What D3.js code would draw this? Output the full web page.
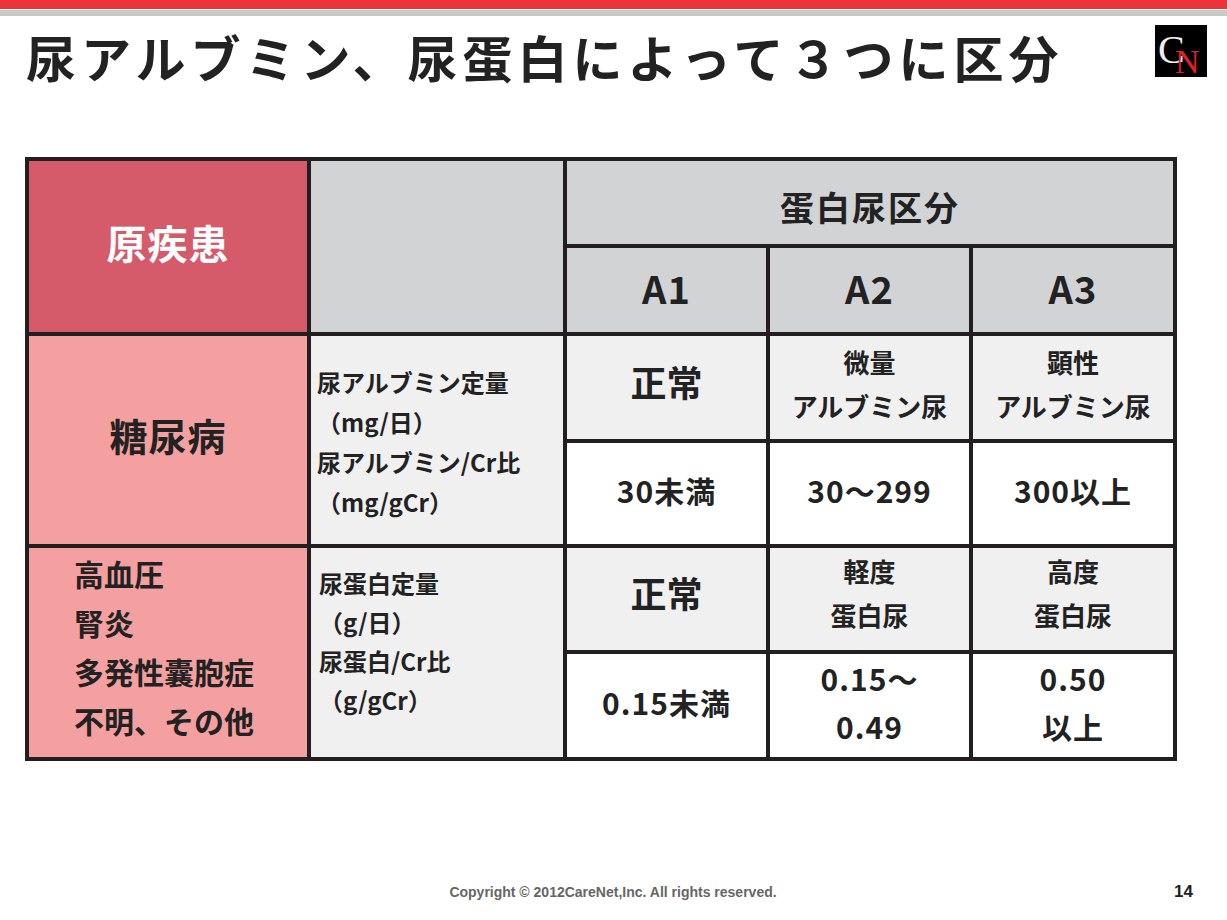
<!DOCTYPE html>
<html><head><meta charset="utf-8">
<script src="https://cdn.jsdelivr.net/npm/d3@7"></script>
<style>body{margin:0;background:#fff}svg{display:block;font-family:"Noto Sans CJK JP",sans-serif}</style>
</head><body><svg id="s" width="1227" height="920"></svg>
<script>
const title = "尿アルブミン、尿蛋白によって３つに区分";
const grades = ["A1", "A2", "A3"];
const dmLabel = ["尿アルブミン定量", "（mg/日）", "尿アルブミン/Cr比", "（mg/gCr）"];
const dmClass = [["正常"], ["微量", "アルブミン尿"], ["顕性", "アルブミン尿"]];
const dmRange = [["30未満"], ["30〜299"], ["300以上"]];
const otherDiseases = ["高血圧", "腎炎", "多発性囊胞症", "不明、その他"];
const pLabel = ["尿蛋白定量", "（g/日）", "尿蛋白/Cr比", "（g/gCr）"];
const pClass = [["正常"], ["軽度", "蛋白尿"], ["高度", "蛋白尿"]];
const pRange = [["0.15未満"], ["0.15〜", "0.49"], ["0.50", "以上"]];

const svg = d3.select("#s");
const colX = [27, 309, 565, 768, 971, 1175];
const rowY = [159, 246, 334, 441, 546, 652, 759];
const ink = "#231f20";

svg.append("rect").attr("width", 1227).attr("height", 9).attr("fill", "#ee3338");
svg.append("rect").attr("y", 10).attr("width", 1227).attr("height", 6).attr("fill", "#c8c8c8");
svg.append("text").attr("x", 26).attr("y", 78).attr("font-size", 50).attr("font-weight", 700)
  .attr("letter-spacing", 5).attr("fill", "#222").text(title);
// logo
const lg = svg.append("g").attr("transform", "translate(1155,25)");
lg.append("rect").attr("width", 52).attr("height", 52).attr("fill", "#000");
lg.append("text").attr("x", 3).attr("y", 38).attr("font-family", "Liberation Serif").attr("font-size", 40).attr("fill", "#eee")
  .text("C").append("tspan").attr("x", 20).attr("y", 48).attr("font-size", 34).attr("fill", "#e2202c").text("N");

function cell(c0, c1, r0, r1, fill, lines, opt = {}) {
  const x0 = colX[c0], x1 = colX[c1], y0 = rowY[r0], y1 = rowY[r1];
  svg.append("rect").attr("x", x0).attr("y", y0).attr("width", x1 - x0).attr("height", y1 - y0)
    .attr("fill", fill).attr("stroke", ink).attr("stroke-width", 4);
  const fs = opt.fs || 28, lh = opt.lh || fs * 1.55;
  const cy = (y0 + y1) / 2 + (opt.dy || 0);
  const cx = opt.x != null ? x0 + opt.x : (x0 + x1) / 2;
  lines.forEach((t, i) => {
    svg.append("text").attr("x", cx).attr("y", cy + (i - (lines.length - 1) / 2) * lh)
      .attr("dy", "0.36em").attr("text-anchor", opt.x != null ? "start" : "middle")
      .attr("font-size", fs).attr("font-weight", 700).attr("fill", opt.color || "#222")
      .attr("letter-spacing", opt.ls || 0).text(t);
  });
}

cell(0, 1, 0, 2, "#d55b6b", ["原疾患"], {fs: 40, color: "#fff", dy: -2, ls: 1});
cell(1, 5, 0, 1, "#d2d3d5", []);
cell(1, 2, 0, 2, "#d2d3d5", []);
svg.append("text").attr("x", (colX[2] + colX[5]) / 2).attr("y", 221).attr("text-anchor", "middle")
  .attr("font-size", 34).attr("font-weight", 700).attr("letter-spacing", 2).attr("fill", "#222").text("蛋白尿区分");
grades.forEach((g, i) => cell(2 + i, 3 + i, 1, 2, "#d2d3d5", [g], {fs: 38, dy: 0, ls: 1}));

cell(0, 1, 2, 4, "#f4a0a0", ["糖尿病"], {fs: 38, dy: -3, ls: 1});
cell(1, 2, 2, 4, "#f0f0f0", dmLabel, {fs: 24, lh: 40, x: 8, dy: 3});
dmClass.forEach((l, i) => cell(2 + i, 3 + i, 2, 3, "#f0f0f0", l, {fs: i ? 26 : 36, lh: 44, dy: i ? -2 : -3}));
dmRange.forEach((l, i) => cell(2 + i, 3 + i, 3, 4, "#fff", l, {fs: 30, dy: -1, ls: 1}));

cell(0, 1, 4, 6, "#f4a0a0", otherDiseases, {fs: 30, lh: 49, x: 47, dy: -4});
cell(1, 2, 4, 6, "#f0f0f0", pLabel, {fs: 24, lh: 39, x: 10, dy: -10});
pClass.forEach((l, i) => cell(2 + i, 3 + i, 4, 5, "#f0f0f0", l, {fs: i ? 26 : 36, lh: 44, dy: -4}));
pRange.forEach((l, i) => cell(2 + i, 3 + i, 5, 6, "#fff", l, {fs: 30, lh: 48, dy: -1, ls: 1}));

svg.append("text").attr("x", 613).attr("y", 897).attr("text-anchor", "middle").attr("font-family", "Liberation Sans, Arial")
  .attr("font-size", 14).attr("font-weight", 700).attr("fill", "#666").text("Copyright © 2012CareNet,Inc. All rights reserved.");
svg.append("text").attr("x", 1193).attr("y", 897).attr("text-anchor", "end").attr("font-family", "Liberation Sans, Arial")
  .attr("font-size", 17).attr("font-weight", 700).attr("fill", "#222").text("14");
</script></body></html>
